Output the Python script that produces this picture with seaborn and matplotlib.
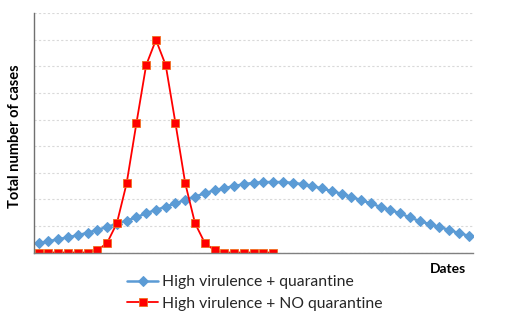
import numpy as np
import pandas as pd
import matplotlib
matplotlib.use("Agg")
import matplotlib.pyplot as plt
import seaborn as sns

series_quarantine = "High virulence + quarantine"
series_no_quarantine = "High virulence + NO quarantine"

quarantine_values = [0.35, 0.42, 0.50, 0.57, 0.65, 0.74, 0.85, 0.96, 1.08, 1.20,
                     1.32, 1.48, 1.60, 1.72, 1.85, 1.98, 2.10, 2.23, 2.34, 2.42,
                     2.50, 2.57, 2.62, 2.65, 2.65, 2.65, 2.62, 2.57, 2.50, 2.41,
                     2.31, 2.21, 2.09, 1.97, 1.85, 1.71, 1.60, 1.47, 1.32, 1.18,
                     1.07, 0.96, 0.85, 0.73, 0.63]
no_quarantine_values = [0, 0, 0, 0, 0, 0, 0.08, 0.36, 1.1, 2.6,
                        4.86, 7.05, 8.0, 7.05, 4.86, 2.6, 1.1, 0.36, 0.08, 0,
                        0, 0, 0, 0, 0]

x_label = "Dates"
y_label = "Total number of cases"

sns.set_theme(style="white")
plt.rcParams['font.family'] = ['Lato', 'DejaVu Sans']

df_q = pd.DataFrame({"day": np.arange(len(quarantine_values)), "cases": quarantine_values})
df_n = pd.DataFrame({"day": np.arange(len(no_quarantine_values)), "cases": no_quarantine_values})

fig = plt.figure(figsize=(5.12, 3.24), dpi=100)
ax = fig.add_axes([34/512, 1-252.5/324, (473-34)/512, (252.5-13.3)/324])

sns.lineplot(data=df_q, x="day", y="cases", ax=ax, color="#5B9BD5", lw=1.8,
             marker="D", markersize=5.5, markeredgecolor="#5B9BD5", label=series_quarantine)
sns.lineplot(data=df_n, x="day", y="cases", ax=ax, color="#FF0000", lw=1.3,
             marker="s", markersize=6, markerfacecolor="#FF0000",
             markeredgecolor="#F07020", markeredgewidth=0.6, label=series_no_quarantine)

ax.set_xlim(-0.48, 44.45)
ax.set_ylim(0, 9)
ax.set_yticks(np.arange(0, 10, 1))
ax.set_xticks([])
ax.set_yticklabels([])
ax.tick_params(left=False, bottom=False)
ax.yaxis.grid(True, color="#D9D9D9", linestyle=(0, (2, 2)), lw=0.8)
ax.xaxis.grid(False)
for s in ["top", "right"]:
    ax.spines[s].set_visible(False)
ax.spines["left"].set_color("#707070")
ax.spines["bottom"].set_color("#808080")
ax.spines["left"].set_linewidth(1.0)
ax.spines["bottom"].set_linewidth(1.0)
ax.set_xlabel("")
ax.set_ylabel("")

fig.text(15/512, 1-136/324, y_label, rotation=90, ha="center", va="center",
         fontsize=10.5, fontweight="bold", color="black")
fig.text(448/512, 1-269/324, x_label, ha="center", va="center",
         fontsize=10, fontweight="bold", color="black")

ax.legend(loc="upper left", bbox_to_anchor=(127/512, 1-275/324), bbox_transform=fig.transFigure,
          frameon=False, fontsize=11.3, handlelength=2.0, handletextpad=0.25,
          labelspacing=0.5, borderpad=0, borderaxespad=0)

fig.savefig("out.png", dpi=100)
